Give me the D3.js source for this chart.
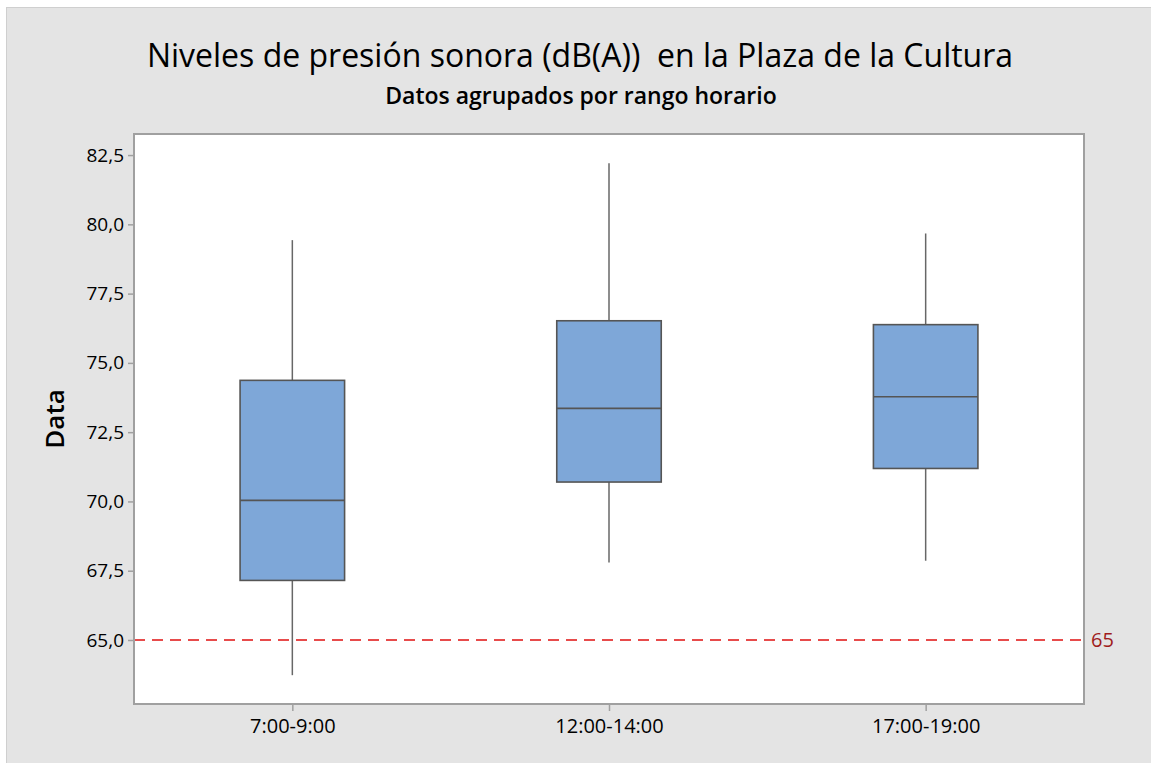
<!DOCTYPE html>
<html>
<head>
<meta charset="utf-8">
<script src="https://cdn.jsdelivr.net/npm/d3@7"></script>
<style>
  body { margin: 0; background: #fff; }
  text { font-family: "Open Sans", "Noto Sans", sans-serif; }
</style>
</head>
<body>
<div id="viz"></div>
<script>
const categories = ['7:00-9:00', '12:00-14:00', '17:00-19:00'],
    whiskerLow = [63.73, 67.80, 67.86],
    q1 = [67.15, 70.70, 71.19],
    median = [70.04, 73.36, 73.78],
    q3 = [74.37, 76.52, 76.38],
    whiskerHigh = [79.43, 82.20, 79.67],
    yTicks = [65.0, 67.5, 70.0, 72.5, 75.0, 77.5, 80.0, 82.5],
    refValue = 65,
    refLabel = '65';

const title = 'Niveles de presión sonora (dB(A))  en la Plaza de la Cultura',
    subtitle = 'Datos agrupados por rango horario',
    yLabel = 'Data';

const svg = d3.select('#viz')
    .append('svg')
    .attr('width', 1151)
    .attr('height', 763);

const margin = {top: 134, right: 67, bottom: 59, left: 134},
    width = +svg.attr('width') - margin.left - margin.right,
    height = +svg.attr('height') - margin.top - margin.bottom;

// figure background
svg.append('rect')
    .attr('x', 6.5).attr('y', 7.5)
    .attr('width', 1151).attr('height', 763)
    .attr('fill', '#e4e4e4')
    .attr('stroke', '#cfcfcf');

const locale = d3.formatLocale({decimal: ',', thousands: '.', grouping: [3], currency: ['', '']});
const fmt = locale.format('.1f');

const x = d3.scalePoint()
    .domain(categories)
    .range([0, width])
    .padding(0.5);

const y = d3.scaleLinear()
    .domain([62.69, 83.26])
    .range([height, 0]);

const g = svg.append('g')
    .attr('transform', 'translate(' + margin.left + ',' + margin.top + ')');

g.append('rect')
    .attr('width', width)
    .attr('height', height)
    .attr('fill', '#fff');

// axes
const yAxis = g.append('g')
    .call(d3.axisLeft(y).tickValues(yTicks).tickFormat(fmt).tickSize(6).tickPadding(4));
const xAxis = g.append('g')
    .attr('transform', 'translate(0,' + height + ')')
    .call(d3.axisBottom(x).tickSize(7).tickPadding(8));

[yAxis, xAxis].forEach(function(a) {
    a.select('.domain').remove();
    a.selectAll('line').attr('stroke', '#a0a0a0').attr('stroke-width', 1.5);
    a.selectAll('text')
        .attr('fill', '#000')
        .style('font-size', '19px')
        .style('font-family', '"Open Sans", "Noto Sans", sans-serif');
});
xAxis.selectAll('text').style('font-size', '20px');

// reference line
g.append('line')
    .attr('x1', 0).attr('x2', width)
    .attr('y1', y(refValue)).attr('y2', y(refValue))
    .attr('stroke', '#e01010')
    .attr('stroke-width', 1.6)
    .attr('stroke-dasharray', '11,7');

g.append('text')
    .attr('x', width + 7)
    .attr('y', y(refValue))
    .attr('dy', '0.35em')
    .attr('fill', '#a01c1c')
    .style('font-size', '20px')
    .text(refLabel);

// boxes
const boxW = x.step() * 0.33;
const boxes = g.selectAll('.box')
    .data(categories)
    .enter().append('g')
    .attr('class', 'box');

boxes.append('line')
    .attr('x1', function(d) { return x(d); })
    .attr('x2', function(d) { return x(d); })
    .attr('y1', function(d, i) { return y(whiskerHigh[i]); })
    .attr('y2', function(d, i) { return y(q3[i]); })
    .attr('stroke', '#676767').attr('stroke-width', 1.5);

boxes.append('line')
    .attr('x1', function(d) { return x(d); })
    .attr('x2', function(d) { return x(d); })
    .attr('y1', function(d, i) { return y(q1[i]); })
    .attr('y2', function(d, i) { return y(whiskerLow[i]); })
    .attr('stroke', '#676767').attr('stroke-width', 1.5);

boxes.append('rect')
    .attr('x', function(d) { return x(d) - boxW / 2; })
    .attr('y', function(d, i) { return y(q3[i]); })
    .attr('width', boxW)
    .attr('height', function(d, i) { return y(q1[i]) - y(q3[i]); })
    .attr('fill', '#7ea7d8')
    .attr('stroke', '#555')
    .attr('stroke-width', 1.6);

boxes.append('line')
    .attr('x1', function(d) { return x(d) - boxW / 2; })
    .attr('x2', function(d) { return x(d) + boxW / 2; })
    .attr('y1', function(d, i) { return y(median[i]); })
    .attr('y2', function(d, i) { return y(median[i]); })
    .attr('stroke', '#555').attr('stroke-width', 1.6);

// plot frame
g.append('rect')
    .attr('width', width)
    .attr('height', height)
    .attr('fill', 'none')
    .attr('stroke', '#a0a0a0')
    .attr('stroke-width', 2);

// titles
svg.append('text')
    .attr('x', 580).attr('y', 67)
    .attr('text-anchor', 'middle')
    .attr('fill', '#000')
    .style('font-size', '32px')
    .style('white-space', 'pre')
    .text(title);

svg.append('text')
    .attr('x', 581).attr('y', 104)
    .attr('text-anchor', 'middle')
    .attr('fill', '#000')
    .style('font-size', '23px')
    .style('font-weight', '600')
    .text(subtitle);

svg.append('text')
    .attr('transform', 'translate(64,419) rotate(-90)')
    .attr('text-anchor', 'middle')
    .attr('fill', '#000')
    .style('font-size', '26px')
    .style('font-weight', '600')
    .text(yLabel);
</script>
</body>
</html>
